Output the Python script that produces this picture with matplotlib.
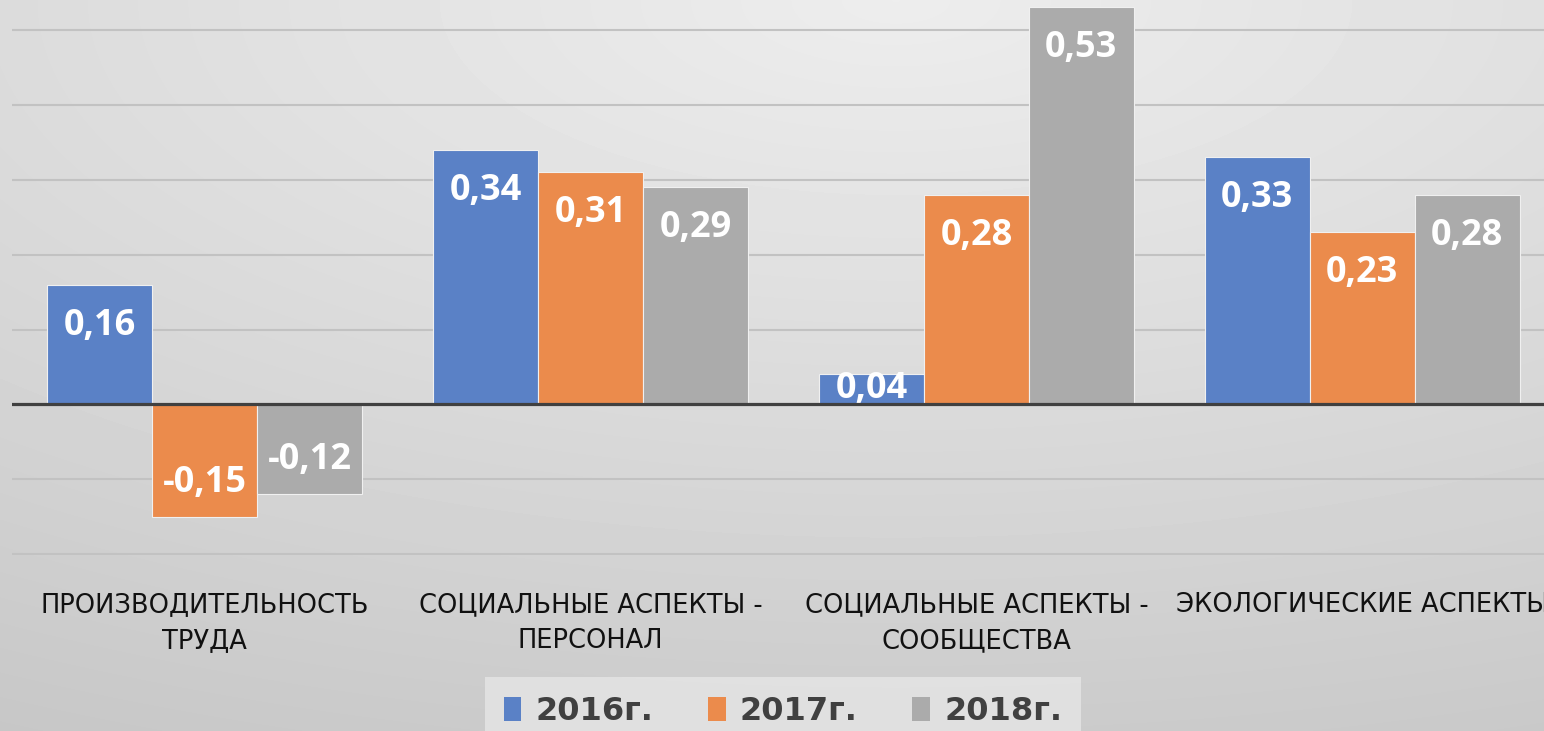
import numpy as np
import matplotlib
matplotlib.use('Agg')
import matplotlib.pyplot as plt
from matplotlib.patches import Patch

# Data

categories = ['ПРОИЗВОДИТЕЛЬНОСТЬ\nТРУДА',
              'СОЦИАЛЬНЫЕ АСПЕКТЫ -\nПЕРСОНАЛ',
              'СОЦИАЛЬНЫЕ АСПЕКТЫ -\nСООБЩЕСТВА',
              'ЭКОЛОГИЧЕСКИЕ АСПЕКТЫ']
years = ['2016г.', '2017г.', '2018г.']
v2016 = [0.16, 0.34, 0.04, 0.33]
v2017 = [-0.15, 0.31, 0.28, 0.23]
v2018 = [-0.12, 0.29, 0.53, 0.28]
colors = ['#5A81C6', '#EB8B4C', '#ABABAB']

W, H = 1544, 731
fig = plt.figure(figsize=(W / 100, H / 100), dpi=100)

# radial gray background
bg = fig.add_axes([0, 0, 1, 1], zorder=0)
yy, xx = np.mgrid[0:H, 0:W]
r = np.sqrt(((xx - 0.58 * W) / W) ** 2 + ((yy - 0.0) / (0.9 * H)) ** 2)
bg.imshow(0.93 - 0.12 * r, cmap='gray', vmin=0, vmax=1, aspect='auto')
bg.axis('off')

ax = fig.add_axes([12 / W, 1 - 555 / H, 1543 / W, 555 / H], zorder=1)
ax.patch.set_alpha(0)

x = np.arange(len(categories))
bw = 0.272
series = [v2016, v2017, v2018]
for i, vals in enumerate(series):
    pos = x + (i - 1) * bw
    ax.bar(pos, vals, width=bw, color=colors[i], edgecolor='#f0f0f0',
           linewidth=0.8, zorder=3)
    for px, v in zip(pos, vals):
        lab = f'{v:.2f}'.replace('.', ',')
        if abs(v) < 0.08:
            ax.text(px, v / 2, lab, ha='center', va='center', color='white',
                    fontsize=26, fontweight='bold', family='Open Sans', zorder=4)
        else:
            off = -29.5 if v > 0 else 24.5
            ax.annotate(lab, (px, v), xytext=(0, off), textcoords='offset points',
                        ha='center', va='center', color='white', fontsize=26,
                        fontweight='bold', family='Open Sans', zorder=4)

ax.set_xlim(-0.5, 3.5)
ax.set_ylim(-0.201, 0.54)
ax.set_yticks([-0.2, -0.1, 0.1, 0.2, 0.3, 0.4, 0.5])
ax.yaxis.grid(True, color='#c2c2c2', linewidth=1.5, zorder=1)
ax.axhline(0, color='#404040', linewidth=2.3, zorder=5)
ax.tick_params(axis='y', left=False, labelleft=False)
ax.tick_params(axis='x', bottom=False, pad=23)
ax.set_xticks(x)
ax.set_xticklabels(categories, fontsize=18.5, family='DejaVu Sans',
                   color='#111111', linespacing=1.5)
for s in ax.spines.values():
    s.set_visible(False)

handles = [Patch(facecolor=c, edgecolor='none') for c in colors]
leg = fig.legend(handles, years, loc='upper center', bbox_to_anchor=(783 / W, 1 - 677 / H),
                 ncol=3, frameon=True, fancybox=False, handlelength=0.55, handleheight=0.8,
                 handletextpad=0.45, columnspacing=1.7, borderpad=0.6, borderaxespad=0,
                 prop={'family': 'DejaVu Sans', 'weight': 'bold', 'size': 23})
leg.get_frame().set_facecolor('#e6e6e6')
leg.get_frame().set_edgecolor('none')
for t in leg.get_texts():
    t.set_color('#404040')

fig.savefig('out.png', dpi=100)
